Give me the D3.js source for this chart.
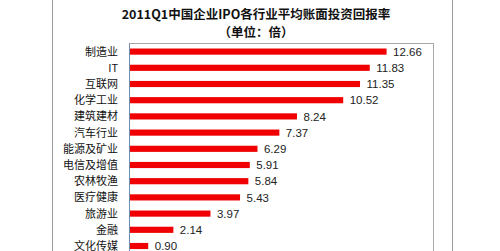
<!DOCTYPE html>
<html>
<head>
<meta charset="utf-8">
<script src="https://cdn.jsdelivr.net/npm/d3@7"></script>
<style>
body{margin:0;background:#fff;overflow:hidden;}
svg{display:block;}
</style>
</head>
<body>
<div id="chart"></div>
<script>
var categories = ["制造业","IT","互联网","化学工业","建筑建材","汽车行业","能源及矿业","电信及增值","农林牧渔","医疗健康","旅游业","金融","文化传媒"];
var values = [12.66,11.83,11.35,10.52,8.24,7.37,6.29,5.91,5.84,5.43,3.97,2.14,0.90];
var titleLines = ["2011Q1中国企业IPO各行业平均账面投资回报率","（单位：倍）"];

var svg = d3.select("#chart").append("svg")
    .attr("width", 500)
    .attr("height", 251);

//outer chart frame
svg.append("rect")
    .attr("x", 52.5).attr("y", -5)
    .attr("width", 400).attr("height", 270)
    .attr("fill", "#fff")
    .attr("stroke", "#9a9a9a");

//title
svg.selectAll("text.title")
    .data(titleLines)
    .enter().append("text")
    .attr("class", "title")
    .attr("x", 256)
    .attr("y", function(d, i){ return 19 + i * 18; })
    .attr("text-anchor", "middle")
    .attr("font-family", "Noto Sans CJK SC, sans-serif")
    .attr("font-size", 12.5)
    .attr("font-weight", "bold")
    .attr("fill", "#111")
    .text(function(d){ return d; });

var plotLeft = 129.5, plotRight = 433.5, plotTop = 43.5;
var step = 16.2;

var x = d3.scaleLinear().domain([0, 15]).range([plotLeft, plotRight]);
var y = d3.scaleBand()
    .domain(categories)
    .range([plotTop, plotTop + step * categories.length])
    .paddingInner(0.62)
    .paddingOuter(0.31);

//plot area
svg.append("rect")
    .attr("x", plotLeft).attr("y", plotTop)
    .attr("width", plotRight - plotLeft).attr("height", 240)
    .attr("fill", "#fff")
    .attr("stroke", "#a8a8a8");

svg.append("line")
    .attr("x1", plotLeft).attr("x2", plotLeft)
    .attr("y1", plotTop).attr("y2", 260)
    .attr("stroke", "#6f8fb0");

//bars
svg.selectAll("rect.bar")
    .data(values)
    .enter().append("rect")
    .attr("class", "bar")
    .attr("x", x(0) + 0.5)
    .attr("y", function(d, i){ return y(categories[i]); })
    .attr("width", function(d){ return x(d) - x(0); })
    .attr("height", y.bandwidth())
    .attr("fill", "#f00000");

//value labels
svg.selectAll("text.val")
    .data(values)
    .enter().append("text")
    .attr("class", "val")
    .attr("x", function(d){ return x(d) + 7; })
    .attr("y", function(d, i){ return y(categories[i]) + y.bandwidth() / 2; })
    .attr("dy", "0.36em")
    .attr("font-family", "Liberation Sans, Arial, sans-serif")
    .attr("font-size", 11.5)
    .attr("fill", "#222")
    .text(function(d){ return d.toFixed(2); });

//category labels
svg.selectAll("text.cat")
    .data(categories)
    .enter().append("text")
    .attr("class", "cat")
    .attr("x", 118)
    .attr("y", function(d){ return y(d) + y.bandwidth() / 2; })
    .attr("dy", "0.36em")
    .attr("text-anchor", "end")
    .attr("font-family", "Noto Sans CJK SC, sans-serif")
    .attr("font-size", 11)
    .attr("fill", "#111")
    .text(function(d){ return d; });
</script>
</body>
</html>
